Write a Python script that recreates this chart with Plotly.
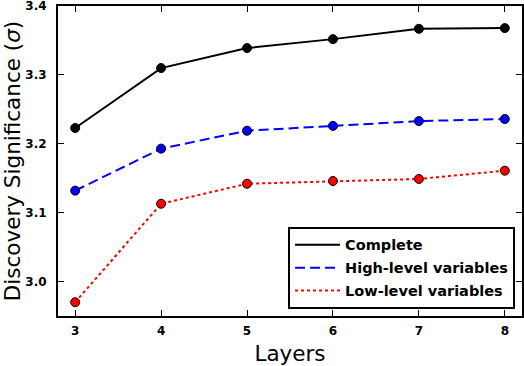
import plotly.graph_objects as go

layers = [3, 4, 5, 6, 7, 8]
complete = [3.223, 3.310, 3.339, 3.352, 3.367, 3.368]
high_level = [3.132, 3.193, 3.219, 3.226, 3.233, 3.236]
low_level = [2.970, 3.113, 3.142, 3.146, 3.149, 3.161]

series = [
    ("Complete", complete, "black", "solid"),
    ("High-level variables", high_level, "blue", "10px,5px"),
    ("Low-level variables", low_level, "red", "dot"),
]

fig = go.Figure()
for name, vals, col, dash in series:
    # line only in legend, markers added separately
    fig.add_trace(go.Scatter(x=layers, y=vals, mode="lines", name=name, legendgroup=name,
                             line=dict(color=col, width=2, dash=dash)))
    fig.add_trace(go.Scatter(x=layers, y=vals, mode="markers", showlegend=False,
                             marker=dict(color=col, size=9,
                                         line=dict(color="black", width=1))))

font = "DejaVu Sans"
axis = dict(showline=True, linecolor="black", linewidth=2, mirror="ticks",
            ticks="inside", ticklen=6, tickcolor="black", tickwidth=1,
            showgrid=False, zeroline=False, automargin=False, ticklabeloverflow="allow",
            tickfont=dict(family=font, size=12, color="black", weight="bold"))

fig.update_xaxes(range=[2.8, 8.2], tickvals=layers, ticklabelstandoff=3,
                 title=dict(text="Layers", font=dict(family=font, size=21.5, color="black")),
                 **axis)
fig.update_yaxes(range=[2.95, 3.4001], tickvals=[3.0, 3.1, 3.2, 3.3, 3.4],
                 ticktext=["3.0", "3.1", "3.2", "3.3", "3.4"], ticklabelstandoff=7,
                 title=dict(text="Discovery Significance (<i>σ</i>)",
                            font=dict(family=font, size=21.5, color="black")),
                 **axis)

fig.update_layout(
    width=524, height=366,
    margin=dict(l=58, r=2, t=6, b=50),
    plot_bgcolor="white", paper_bgcolor="white",
    legend=dict(x=0.985, y=0.023, xanchor="right", yanchor="bottom",
                bordercolor="black", borderwidth=2, bgcolor="white",
                font=dict(family=font, size=14.5, color="black", weight="bold"),
                traceorder="grouped", tracegroupgap=1, itemwidth=45),
)

fig.write_html("out.html", config={"displayModeBar": False},
               post_script="document.body.style.margin='0px';")
